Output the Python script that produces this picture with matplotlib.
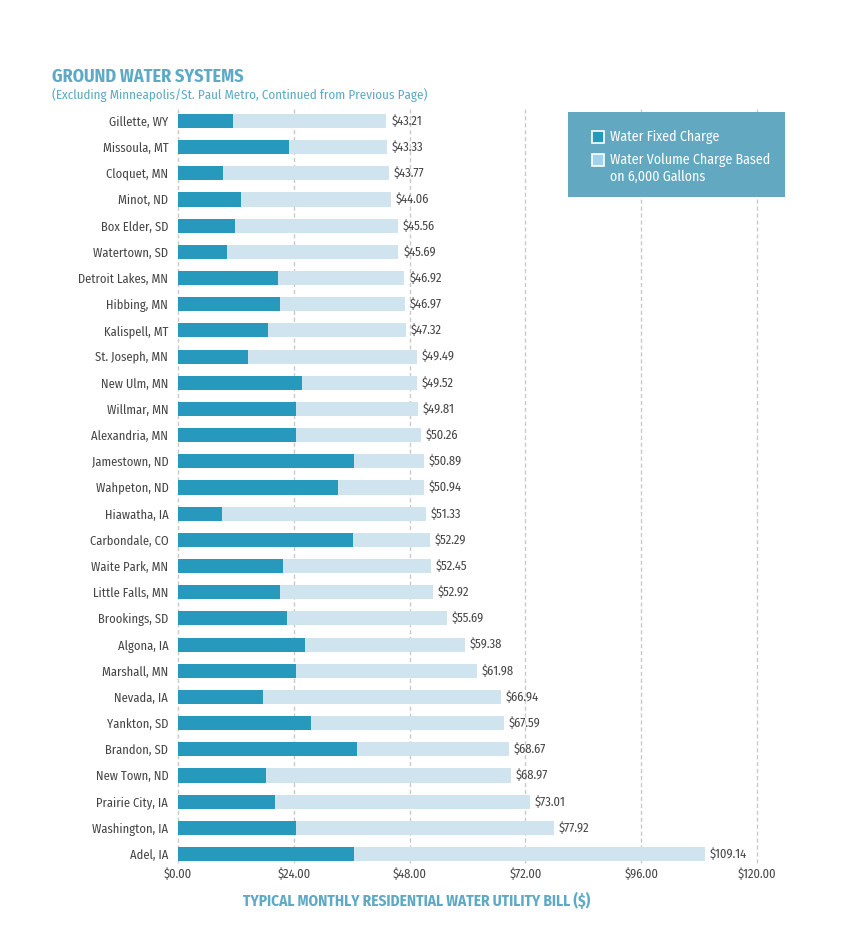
import matplotlib
matplotlib.use("Agg")
import matplotlib.pyplot as plt
from matplotlib.patches import Rectangle

plt.rcParams['font.family'] = ['Fira Sans Condensed', 'DejaVu Sans']

cities = ["Gillette, WY", "Missoula, MT", "Cloquet, MN", "Minot, ND", "Box Elder, SD",
          "Watertown, SD", "Detroit Lakes, MN", "Hibbing, MN", "Kalispell, MT", "St. Joseph, MN",
          "New Ulm, MN", "Willmar, MN", "Alexandria, MN", "Jamestown, ND", "Wahpeton, ND",
          "Hiawatha, IA", "Carbondale, CO", "Waite Park, MN", "Little Falls, MN", "Brookings, SD",
          "Algona, IA", "Marshall, MN", "Nevada, IA", "Yankton, SD", "Brandon, SD",
          "New Town, ND", "Prairie City, IA", "Washington, IA", "Adel, IA"]
totals = [43.21, 43.33, 43.77, 44.06, 45.56, 45.69, 46.92, 46.97, 47.32, 49.49,
          49.52, 49.81, 50.26, 50.89, 50.94, 51.33, 52.29, 52.45, 52.92, 55.69,
          59.38, 61.98, 66.94, 67.59, 68.67, 68.97, 73.01, 77.92, 109.14]
fixed = [11.44, 23.09, 9.36, 13.10, 11.86, 10.19, 20.80, 21.20, 18.70, 14.56,
         25.80, 24.55, 24.55, 36.40, 33.10, 9.15, 36.20, 21.80, 21.20, 22.50,
         26.40, 24.55, 17.70, 27.50, 37.20, 18.30, 20.00, 24.55, 36.40]
volume = [t - f for t, f in zip(totals, fixed)]
xticks = [0, 24, 48, 72, 96, 120]
xticklabels = ["$0.00", "$24.00", "$48.00", "$72.00", "$96.00", "$120.00"]

DARK = "#2799bc"
LIGHT = "#d0e4ef"
TITLE = "#5ea9c5"
TXT = "#444444"

fig = plt.figure(figsize=(8.5, 9.36), dpi=100)
ax = fig.add_axes([178/850, 1-863.2/936, (757-178)/850, (863.2-109.2)/936])

ypos = list(range(len(cities)))
ax.barh(ypos, fixed, height=0.54, color=DARK, zorder=3)
ax.barh(ypos, volume, left=fixed, height=0.54, color=LIGHT, zorder=3)
for y, t in zip(ypos, totals):
    ax.text(t + 1.0, y, f"${t:.2f}", va='center', ha='left', fontsize=9, color=TXT, zorder=4)

for x in xticks:
    ax.axvline(x, color="#c9c9c9", linestyle=(0, (3, 2)), linewidth=1.0, zorder=1, clip_on=False)

ax.set_xlim(0, 120)
ax.set_ylim(28.35, -0.45)
ax.set_xticks(xticks)
ax.set_xticklabels(xticklabels, fontsize=9, color=TXT)
ax.set_yticks(ypos)
ax.set_yticklabels(cities, fontsize=9, color=TXT)
ax.tick_params(axis='both', length=0)
ax.tick_params(axis='y', pad=7)
ax.tick_params(axis='x', pad=3)
for s in ax.spines.values():
    s.set_visible(False)

fig.text(52/850, 1-77/936, "GROUND WATER SYSTEMS", fontsize=13, fontweight='bold',
         color=TITLE, va='center', ha='left')
fig.text(52/850, 1-95/936, "(Excluding Minneapolis/St. Paul Metro, Continued from Previous Page)",
         fontsize=9.4, color=TITLE, va='center', ha='left')
fig.text(417/850, 1-901/936, "TYPICAL MONTHLY RESIDENTIAL WATER UTILITY BILL ($)",
         fontsize=11, fontweight='bold', color=TITLE, va='center', ha='center')

fig.patches.append(Rectangle((568/850, 1-197/936), (785-568)/850, (197-112)/936,
                             transform=fig.transFigure, facecolor="#62a8c0", edgecolor='none', zorder=5))
sq = 12
fig.patches.append(Rectangle((592/850, 1-143/936), sq/850, sq/936, transform=fig.transFigure,
                             facecolor=DARK, edgecolor='white', linewidth=1.2, zorder=6))
fig.patches.append(Rectangle((592/850, 1-166/936), sq/850, sq/936, transform=fig.transFigure,
                             facecolor="#9fd3ea", edgecolor='white', linewidth=1.2, zorder=6))
fig.text(610/850, 1-137/936, "Water Fixed Charge", fontsize=10, color='white', va='center', ha='left', zorder=7)
fig.text(610/850, 1-160/936, "Water Volume Charge Based", fontsize=10, color='white', va='center', ha='left', zorder=7)
fig.text(610/850, 1-177/936, "on 6,000 Gallons", fontsize=10, color='white', va='center', ha='left', zorder=7)

fig.savefig("out.png", dpi=100, facecolor='white')
